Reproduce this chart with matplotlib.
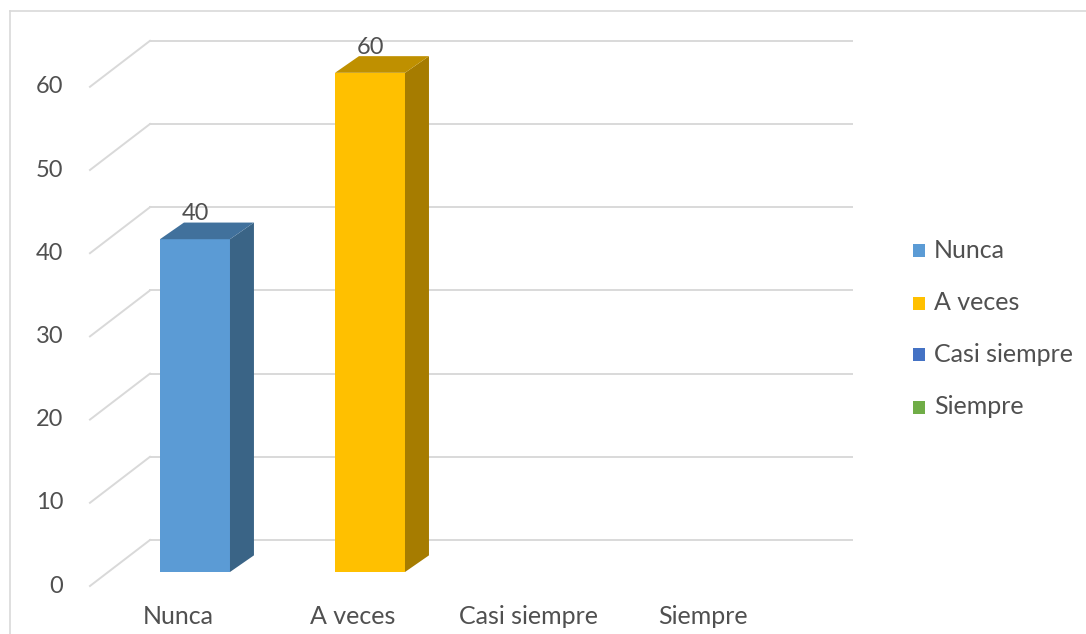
import matplotlib
matplotlib.use("Agg")
import matplotlib.pyplot as plt
from matplotlib.patches import Polygon, Rectangle
from matplotlib.lines import Line2D

categories = ["Nunca", "A veces", "Casi siempre", "Siempre"]
values = [40, 60, 0, 0]
y_ticks = [0, 10, 20, 30, 40, 50, 60]
front_colors = ["#5B9BD5", "#FFC000", "#4472C4", "#70AD47"]
side_colors = ["#3A6486", "#A67C00", "#2C4A80", "#49712E"]
top_colors = ["#41719C", "#BF9000", "#345A9E", "#548235"]

plt.rcParams["font.family"] = ["Lato", "DejaVu Sans"]
TEXT = "#505050"
GRID = "#D9D9D9"

fig = plt.figure(figsize=(10.86, 6.34), dpi=100)
ax = fig.add_axes([0, 0, 1, 1])
ax.set_xlim(-1.114, 5.091)
ax.set_ylim(-7.452, 68.75)
ax.axis("off")

# pseudo-3D geometry (in data units)
bar_w = 0.4
depth_x, depth_y = 0.137, 2.0          # bar depth
back_dy, front_dy = 3.846, -1.683      # wall offsets relative to bar plane
back_x0, back_x1 = -0.257, 3.754
front_x0 = -0.6

# gridlines: back wall + side diagonals
for v in y_ticks:
    ax.add_line(Line2D([back_x0, back_x1], [v + back_dy, v + back_dy],
                       color=GRID, lw=1.4, zorder=1))
    ax.add_line(Line2D([front_x0, back_x0], [v + front_dy, v + back_dy],
                       color=GRID, lw=1.4, zorder=1))
    ax.text(-0.752, v + front_dy, str(v), ha="right", va="center",
            fontsize=17, color=TEXT)

# bars
for i, v in enumerate(values):
    if v <= 0:
        continue
    xl, xr = i - bar_w / 2, i + bar_w / 2
    ax.add_patch(Rectangle((xl, 0), bar_w, v, facecolor=front_colors[i],
                           edgecolor="none", zorder=3))
    ax.add_patch(Polygon([(xr, 0), (xr + depth_x, depth_y),
                          (xr + depth_x, v + depth_y), (xr, v)],
                         closed=True, facecolor=side_colors[i],
                         edgecolor="none", zorder=3))
    ax.add_patch(Polygon([(xl, v), (xr, v), (xr + depth_x, v + depth_y),
                          (xl + depth_x, v + depth_y)],
                         closed=True, facecolor=top_colors[i],
                         edgecolor="none", zorder=3))
    ax.text(i + 0.005, v + 2.3, str(v), ha="center", va="baseline",
            fontsize=17, color=TEXT, zorder=4)

# category labels
for i, c in enumerate(categories):
    ax.text(i - 0.097, -5.4, c, ha="center", va="center",
            fontsize=18, color=TEXT)

# legend
leg_y = [250, 303, 355, 407]
for c, col, yp in zip(categories, front_colors, leg_y):
    fy = 1 - yp / 634
    fig.patches.append(Rectangle((913 / 1086, fy - 6.5 / 634), 12 / 1086, 13 / 634,
                                 transform=fig.transFigure, facecolor=col,
                                 edgecolor="none"))
    fig.text(934 / 1086, fy, c, ha="left", va="center", fontsize=18, color=TEXT)

# chart area border
fig.add_artist(Line2D([10 / 1086, 10 / 1086], [0, 1 - 11 / 634],
                      transform=fig.transFigure, color="#D9D9D9", lw=1.2))
fig.add_artist(Line2D([10 / 1086, 1], [1 - 11 / 634, 1 - 11 / 634],
                      transform=fig.transFigure, color="#D9D9D9", lw=1.2))

fig.savefig("out.png", dpi=100, facecolor="white")
